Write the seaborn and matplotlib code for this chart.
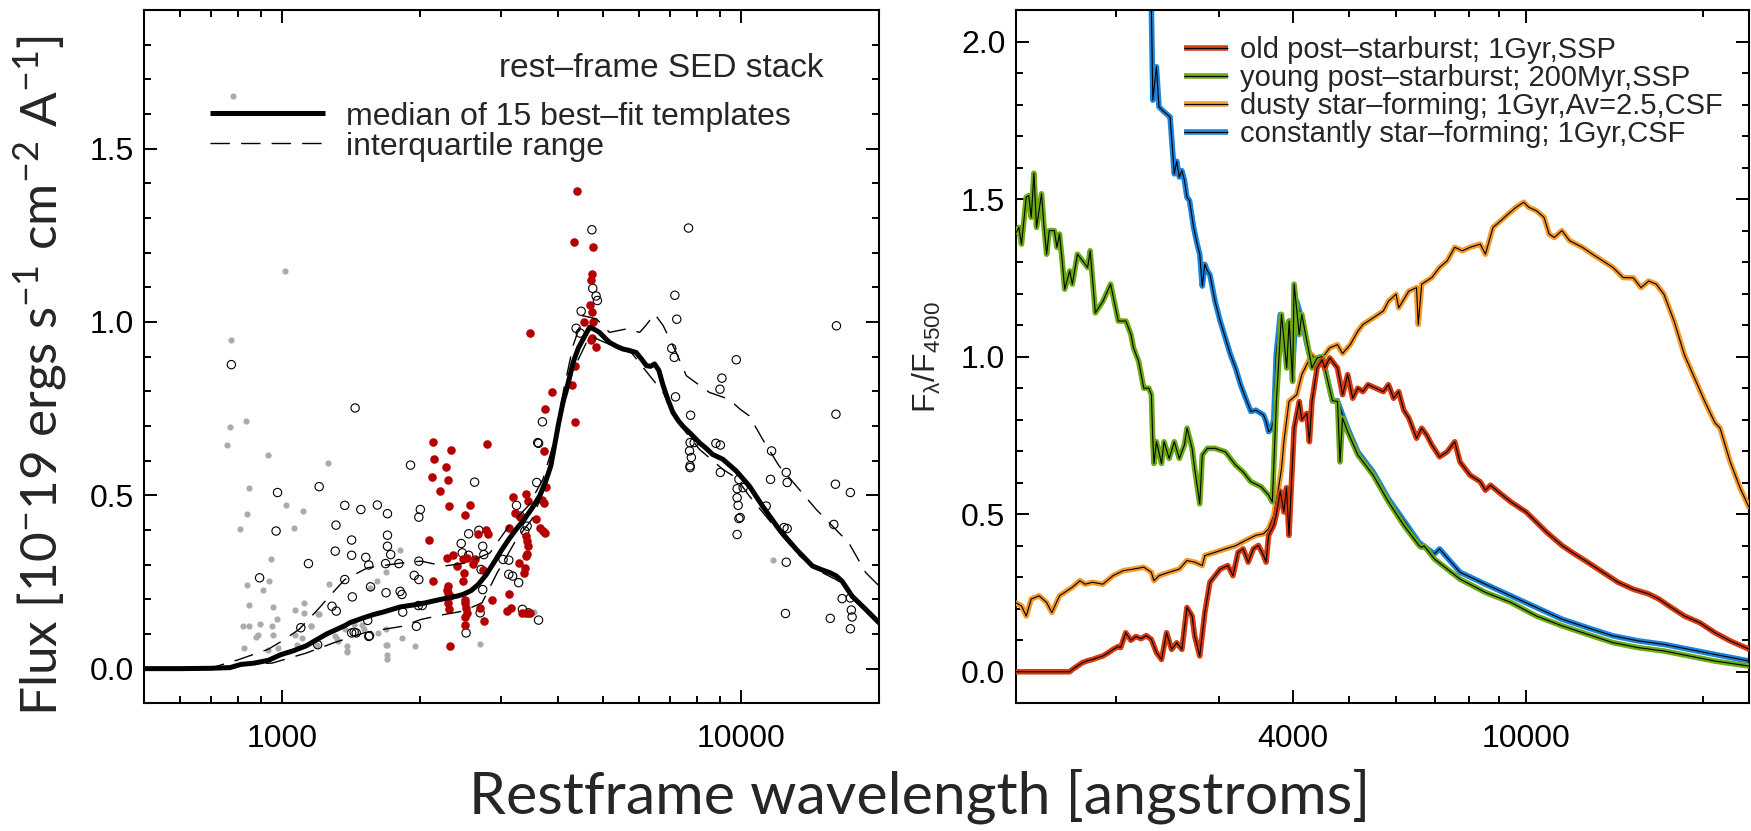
import matplotlib
matplotlib.use("Agg")
import matplotlib.pyplot as plt
from matplotlib.lines import Line2D
from matplotlib.ticker import FixedLocator, NullFormatter, FixedFormatter
import seaborn as sns

# ---------------- left panel: rest-frame SED stack ----------------
MED_WAVE = [500, 600, 700, 770, 812, 870, 933, 992, 1060, 1129, 1170, 1250, 1369, 1407, 1500, 1580,
            1658, 1808, 2008, 2150, 2295, 2400, 2478, 2580, 2675, 2780, 2890, 3000, 3117, 3240, 3367,
            3500, 3638, 3750, 3849, 3930, 3999, 4093, 4156, 4306, 4420, 4527, 4677, 4800, 4912, 5040,
            5167, 5350, 5526, 5700, 5906, 6050, 6220, 6350, 6477, 6620, 6763, 6930, 7103, 7300, 7458,
            7800, 8107, 8400, 8664, 9124, 9759, 10419, 11133, 12094, 13188, 14304, 15000, 15593,
            16100, 16600, 17450, 18680, 20000]
MED_FLUX = [0.0, 0.0, 0.001, 0.003, 0.012, 0.016, 0.024, 0.04, 0.052, 0.066, 0.078, 0.10, 0.124, 0.133,
            0.146, 0.156, 0.163, 0.178, 0.187, 0.196, 0.204, 0.209, 0.214, 0.225, 0.243, 0.27, 0.305,
            0.34, 0.373, 0.403, 0.43, 0.462, 0.498, 0.54, 0.585, 0.65, 0.705, 0.77, 0.80, 0.884, 0.925,
            0.951, 0.985, 0.978, 0.970, 0.955, 0.941, 0.93, 0.922, 0.918, 0.912, 0.895, 0.874, 0.872,
            0.879, 0.86, 0.816, 0.775, 0.739, 0.715, 0.70, 0.675, 0.652, 0.635, 0.618, 0.604, 0.570,
            0.527, 0.469, 0.402, 0.344, 0.296, 0.285, 0.277, 0.268, 0.252, 0.209, 0.171, 0.132]

UQ_WAVE = [500, 700, 800, 933, 1000, 1088, 1197, 1280, 1369, 1536, 1824, 2008, 2252, 2527, 2837, 3117,
           3434, 3700, 3927, 4100, 4300, 4527, 4838, 5167, 5629, 6011, 6200, 6480, 6760, 7220, 7597,
           8522, 9416, 9935, 10419, 11133, 12094, 13188, 14557, 15816, 17160, 18680, 20000]
UQ_FLUX = [0.0, 0.002, 0.025, 0.056, 0.08, 0.113, 0.171, 0.215, 0.257, 0.291, 0.305, 0.31, 0.296, 0.305,
           0.334, 0.411, 0.469, 0.546, 0.662, 0.80, 0.93, 1.018, 1.009, 0.97, 0.98, 0.97, 0.99, 1.023,
           0.99, 0.912, 0.845, 0.797, 0.777, 0.749, 0.729, 0.662, 0.585, 0.527, 0.46, 0.411, 0.363,
           0.277, 0.238]

LQ_WAVE = [500, 700, 800, 951, 1129, 1292, 1507, 1658, 1824, 2008, 2252, 2478, 2726, 2942, 3240, 3497,
           3776, 4000, 4300, 4677, 5345, 5780, 6320, 6763, 7220, 7597, 8107, 9124, 9759, 10419, 11320,
           12300, 13420, 14557, 16090, 16900, 17500, 18680, 20000]
LQ_FLUX = [0.0, 0.0, 0.012, 0.016, 0.045, 0.074, 0.103, 0.113, 0.122, 0.142, 0.156, 0.166, 0.19, 0.277,
           0.373, 0.43, 0.537, 0.70, 0.86, 0.96, 0.927, 0.91, 0.845, 0.797, 0.72, 0.68, 0.633, 0.575,
           0.55, 0.498, 0.44, 0.382, 0.325, 0.286, 0.257, 0.24, 0.21, 0.165, 0.125]

GRAY_WAVE = [783, 1013, 775, 770, 832, 759, 933, 1260, 848, 840, 808, 1019, 1109, 1061, 947, 1807, 840,
             937, 907, 845, 953, 1067, 1115, 975, 821, 846, 895, 951, 876, 885, 955, 827, 933, 979, 1115,
             1197, 1157, 1105, 1190, 1268, 1381, 1317, 1381, 1612, 1550, 1684, 1689, 1689, 1684, 1824,
             1951, 1506, 1369, 2700, 3536, 11750, 1078, 1306, 1323, 1431, 1492, 1620, 1685, 1690, 1384,
             1069, 1201, 1156]
GRAY_FLUX = [1.651, 1.146, 0.947, 0.698, 0.714, 0.645, 0.616, 0.593, 0.521, 0.445, 0.402, 0.471, 0.456,
             0.406, 0.315, 0.342, 0.241, 0.254, 0.226, 0.183, 0.178, 0.169, 0.188, 0.144, 0.122, 0.124,
             0.130, 0.124, 0.092, 0.098, 0.098, 0.060, 0.055, 0.060, 0.161, 0.158, 0.122, 0.089, 0.067,
             0.245, 0.064, 0.086, 0.047, 0.252, 0.233, 0.278, 0.040, 0.028, 0.067, 0.087, 0.066, 0.113,
             0.113, 0.071, 0.163, 0.312, 0.069, 0.095, 0.079, 0.130, 0.127, 0.103, 0.115, 0.069, 0.050,
             0.098, 0.159, 0.124]

OPEN_WAVE = [775, 1442, 4730, 7680, 4750, 4862, 4830, 7170, 4482, 7240, 16130, 4370, 4460, 7060, 7150,
             9759, 9080, 8993, 7195, 7760, 16090, 7740, 7900, 7720, 7790, 7740, 7740, 8810, 9010, 11650,
             9010, 12540, 11590, 9890, 9800, 10100, 12600, 16050, 17300, 9800, 9850, 11340, 9890, 9950,
             9800, 15920, 12400, 12600, 12540, 16600, 17300, 17380, 17450, 17300, 15640, 12490,
             1904, 1204, 977, 2626, 970, 1369, 1484, 1612, 1696, 2000, 1985, 1310, 1417, 1305, 1417,
             1521, 1544, 1696, 1696, 1724, 1680, 1796, 1985, 1940, 1985, 1141, 893, 1369, 1558, 1422,
             1684, 1807, 1824, 1284, 1312, 1981, 2019, 1831, 1536, 1098, 1417, 1450, 1544, 1961, 1435,
             1550, 1195, 2455, 2549, 2468, 2549, 2683, 2735, 2750, 2713, 2735, 2700, 2516, 3029, 3117,
             3117, 3178, 3275, 3240, 3303, 3418, 3378, 3338, 3441, 3619, 3586, 3604, 3620, 3690]
OPEN_FLUX = [0.877, 0.752, 1.266, 1.271, 1.097, 1.062, 1.075, 1.077, 1.031, 1.008, 0.989, 0.982, 0.968,
             0.924, 0.898, 0.891, 0.838, 0.806, 0.784, 0.731, 0.734, 0.652, 0.652, 0.628, 0.609, 0.585,
             0.58, 0.650, 0.645, 0.628, 0.566, 0.566, 0.546, 0.546, 0.519, 0.522, 0.537, 0.532, 0.508,
             0.493, 0.471, 0.469, 0.433, 0.436, 0.387, 0.416, 0.407, 0.404, 0.307, 0.202, 0.204, 0.169,
             0.149, 0.115, 0.145, 0.159,
             0.587, 0.525, 0.508, 0.538, 0.397, 0.471, 0.459, 0.472, 0.447, 0.459, 0.437, 0.414, 0.371,
             0.339, 0.327, 0.321, 0.299, 0.385, 0.353, 0.329, 0.303, 0.303, 0.310, 0.269, 0.257, 0.303,
             0.262, 0.257, 0.236, 0.207, 0.219, 0.223, 0.214, 0.180, 0.166, 0.182, 0.182, 0.163, 0.139,
             0.118, 0.103, 0.103, 0.093, 0.122, 0.105, 0.095, 0.069, 0.361, 0.389, 0.334, 0.327, 0.399,
             0.353, 0.329, 0.286, 0.228, 0.161, 0.103, 0.315, 0.313, 0.272, 0.267, 0.248, 0.471, 0.440,
             0.411, 0.397, 0.171, 0.161, 0.140, 0.537, 0.652, 0.650, 0.712]

RED_WAVE = [4388, 4319, 4760, 4724, 4700, 4680, 4730, 4750, 4550, 4700, 4740, 4838, 4340, 4270, 3870,
            3462, 4336, 3740, 3717, 3761, 3690, 3717, 3704, 3740, 3566, 3638,
            2126, 2145, 2329, 2274, 2791, 2119, 2295, 2208, 2308, 2566, 2505, 2085, 2676, 2803, 2780,
            2285, 2362, 2478, 2524, 2409, 2626, 2600, 2488, 2735, 2126, 2478, 2300, 2290, 2295, 2320,
            2300, 2305, 2500, 2505, 2515, 2530, 2505, 2500, 2700, 2750, 2318, 2860, 3117, 3178, 3208,
            3303, 3398, 3441, 3398, 3418, 3441, 3398, 3420, 3378, 3367, 3275, 3117, 3147, 3088, 3338,
            3398, 3463]
RED_FLUX = [1.377, 1.23, 1.216, 1.139, 1.12, 1.05, 1.03, 1.0, 1.0, 0.949, 0.955, 0.929, 0.874, 0.819,
            0.797, 0.968, 0.712, 0.749, 0.628, 0.525, 0.486, 0.479, 0.397, 0.390, 0.431, 0.407,
            0.655, 0.606, 0.630, 0.583, 0.649, 0.553, 0.543, 0.512, 0.469, 0.471, 0.443, 0.371, 0.387,
            0.387, 0.40, 0.320, 0.327, 0.315, 0.318, 0.296, 0.317, 0.303, 0.277, 0.284, 0.252, 0.252,
            0.238, 0.228, 0.219, 0.209, 0.190, 0.171, 0.199, 0.190, 0.175, 0.161, 0.149, 0.127, 0.175,
            0.137, 0.066, 0.199, 0.407, 0.495, 0.450, 0.436, 0.503, 0.484, 0.382, 0.368, 0.353, 0.325,
            0.33, 0.291, 0.277, 0.305, 0.214, 0.175, 0.166, 0.161, 0.161, 0.161]

# ---------------- right panel: template spectra ----------------
OLD_WAVE = [1348, 1668, 1685, 1754, 1789, 1825, 1862, 1900, 1939, 1978, 2018, 2038, 2079, 2121, 2164,
            2208, 2253, 2298, 2345, 2392, 2440, 2489, 2539, 2591, 2643, 2697, 2724, 2779, 2835, 2892,
            2951, 3011, 3103, 3166, 3230, 3295, 3361, 3429, 3498, 3569, 3605, 3641, 3715, 3752, 3812,
            3866, 3905, 3944, 3984, 4024, 4106, 4147, 4230, 4273, 4316, 4403, 4492, 4537, 4628, 4770,
            4867, 4965, 5064, 5167, 5272, 5378, 5543, 5711, 5827, 5945, 6065, 6188, 6313, 6505, 6638,
            6771, 6908, 7119, 7335, 7557, 7714, 8025, 8353, 8523, 8695, 9049, 9419, 10000, 10411,
            10836, 11507, 11976, 12719, 13508, 14341, 15229, 16173, 16830, 17515, 18604, 19750,
            20975, 22270, 24028]
OLD_FLUX = [0.0, 0.0, 0.007, 0.029, 0.035, 0.039, 0.045, 0.05, 0.06, 0.071, 0.08, 0.077, 0.124, 0.10,
            0.112, 0.105, 0.115, 0.103, 0.061, 0.039, 0.124, 0.071, 0.092, 0.071, 0.204, 0.177, 0.114,
            0.05, 0.188, 0.284, 0.305, 0.326, 0.337, 0.305, 0.379, 0.39, 0.348, 0.39, 0.401, 0.369,
            0.348, 0.433, 0.465, 0.499, 0.573, 0.507, 0.584, 0.433, 0.605, 0.773, 0.858, 0.80, 0.82,
            0.73, 0.858, 0.964, 0.99, 0.964, 0.996, 0.964, 0.879, 0.943, 0.868, 0.90, 0.889, 0.911,
            0.90, 0.889, 0.911, 0.868, 0.889, 0.83, 0.805, 0.741, 0.773, 0.751, 0.72, 0.682, 0.698,
            0.73, 0.666, 0.624, 0.603, 0.576, 0.592, 0.565, 0.539, 0.507, 0.475, 0.443, 0.401, 0.379,
            0.348, 0.316, 0.284, 0.262, 0.247, 0.231, 0.209, 0.177, 0.156, 0.124, 0.098, 0.071]

YOUNG_WAVE = [1348, 1367, 1381, 1407, 1421, 1435, 1450, 1465, 1494, 1509, 1524, 1540, 1571, 1587, 1603,
              1620, 1636, 1669, 1686, 1720, 1755, 1790, 1808, 1845, 1901, 1959, 2019, 2080, 2122, 2143,
              2187, 2231, 2276, 2299, 2310, 2322, 2345, 2392, 2416, 2465, 2515, 2565, 2617, 2644, 2697,
              2724, 2779, 2807, 2864, 2951, 3072, 3198, 3295, 3396, 3535, 3643, 3694, 3754, 3830, 3908,
              3947, 4000, 4024, 4106, 4147, 4231, 4316, 4404, 4493, 4584, 4677, 4771, 4818, 4866, 4965,
              5168, 5488, 5828, 6193, 6575, 6638, 6700, 6978, 7714, 8523, 9419, 10411, 11507, 12719,
              14058, 15536, 17170, 18979, 20975, 24028]
YOUNG_FLUX = [1.389, 1.41, 1.357, 1.506, 1.511, 1.442, 1.582, 1.41, 1.517, 1.41, 1.325, 1.40, 1.40,
              1.347, 1.389, 1.304, 1.214, 1.272, 1.23, 1.325, 1.304, 1.283, 1.336, 1.139, 1.176, 1.23,
              1.113, 1.113, 1.07, 1.028, 0.985, 0.90, 0.90, 0.879, 0.75, 0.661, 0.73, 0.661, 0.73,
              0.677, 0.73, 0.677, 0.72, 0.773, 0.709, 0.645, 0.533, 0.688, 0.709, 0.709, 0.698, 0.656,
              0.634, 0.603, 0.587, 0.56, 0.539, 0.858, 1.134, 0.964, 1.113, 0.921, 1.23, 1.07, 1.134,
              1.049, 0.964, 0.996, 1.0, 0.93, 0.86, 0.858, 0.666, 0.805, 0.762, 0.688, 0.624, 0.539,
              0.464, 0.40, 0.395, 0.40, 0.358, 0.294, 0.252, 0.22, 0.177, 0.146, 0.119, 0.0925, 0.0765,
              0.066, 0.05, 0.034, 0.018]

DUSTY_WAVE = [1348, 1381, 1407, 1435, 1480, 1524, 1556, 1603, 1685, 1737, 1772, 1825, 1900, 1978, 2059,
              2143, 2231, 2298, 2322, 2369, 2465, 2565, 2643, 2724, 2807, 2835, 2951, 3072, 3198, 3328,
              3464, 3569, 3641, 3715, 3792, 3830, 3866, 3944, 4065, 4147, 4230, 4316, 4403, 4537, 4628,
              4770, 4867, 5015, 5167, 5272, 5488, 5711, 5827, 6004, 6065, 6313, 6505, 6549, 6638, 6908,
              7119, 7335, 7557, 7788, 8025, 8353, 8523, 8781, 9049, 9325, 9612, 9903, 10103, 10411,
              10727, 10945, 11167, 11507, 11857, 12467, 12973, 13508, 14058, 14632, 15229, 15693,
              16173, 16662, 17170, 17867, 18604, 19360, 20151, 20975, 21400, 22270, 23177, 24028]
DUSTY_FLUX = [0.22, 0.209, 0.177, 0.231, 0.241, 0.22, 0.188, 0.241, 0.268, 0.289, 0.278, 0.284, 0.278,
              0.305, 0.321, 0.326, 0.332, 0.316, 0.289, 0.305, 0.316, 0.326, 0.353, 0.348, 0.337, 0.369,
              0.379, 0.39, 0.40, 0.417, 0.433, 0.438, 0.454, 0.496, 0.592, 0.645, 0.73, 0.858, 0.879,
              0.943, 0.975, 1.006, 0.985, 1.006, 1.028, 1.038, 1.01, 1.038, 1.081, 1.102, 1.123, 1.145,
              1.176, 1.198, 1.155, 1.208, 1.219, 1.102, 1.23, 1.251, 1.283, 1.304, 1.347, 1.336, 1.347,
              1.357, 1.325, 1.41, 1.431, 1.453, 1.474, 1.49, 1.474, 1.463, 1.442, 1.389, 1.378, 1.40,
              1.368, 1.347, 1.325, 1.304, 1.283, 1.251, 1.25, 1.219, 1.24, 1.23, 1.198, 1.113, 1.006,
              0.932, 0.858, 0.79, 0.773, 0.666, 0.581, 0.518]

CONST_WAVE = [2280, 2299, 2312, 2345, 2368, 2406, 2455, 2474, 2515, 2539, 2565, 2591, 2617, 2643, 2670,
              2713, 2751, 2779, 2807, 2835, 2864, 2892, 2951, 3011, 3072, 3134, 3198, 3262, 3328, 3396,
              3464, 3569, 3605, 3641, 3679, 3715, 3752, 3812, 3866, 3944, 4000, 4065, 4147, 4230, 4316,
              4403, 4492, 4584, 4677, 4770, 4867, 4965, 5167, 5488, 5827, 6188, 6573, 6978, 7119, 7714,
              8523, 9419, 10411, 11507, 12719, 14058, 15536, 17170, 18979, 20975, 24028]
CONST_FLUX = [2.3, 2.10, 1.814, 1.92, 1.793, 1.78, 1.766, 1.76, 1.58, 1.62, 1.57, 1.59, 1.56, 1.506,
              1.495, 1.41, 1.357, 1.325, 1.224, 1.293, 1.272, 1.26, 1.176, 1.113, 1.06, 1.007, 0.964,
              0.911, 0.868, 0.826, 0.83, 0.815, 0.794, 0.762, 0.77, 0.80, 1.007, 1.134, 1.07, 1.113,
              0.964, 1.176, 1.12, 1.04, 0.975, 0.996, 1.0, 0.93, 0.86, 0.86, 0.815, 0.773, 0.698, 0.634,
              0.549, 0.48, 0.41, 0.374, 0.39, 0.316, 0.278, 0.241, 0.204, 0.167, 0.14, 0.114, 0.098,
              0.087, 0.071, 0.055, 0.034]

TEMPLATE_LABELS = ["old post\u2013starburst; 1Gyr,SSP",
                   "young post\u2013starburst; 200Myr,SSP",
                   "dusty star\u2013forming; 1Gyr,Av=2.5,CSF",
                   "constantly star\u2013forming; 1Gyr,CSF"]
TEMPLATE_COLORS = ["#d63a10", "#6cab14", "#f59a2c", "#1b84dc"]

LEFT_XTICKS_MAJOR = [1000, 10000]
LEFT_XTICK_LABELS = ["1000", "10000"]
LEFT_XTICKS_MINOR = [600, 700, 800, 900, 2000, 3000, 4000, 5000, 6000, 7000, 8000, 9000]
RIGHT_XTICKS_MAJOR = [4000, 10000]
RIGHT_XTICK_LABELS = ["4000", "10000"]
RIGHT_XTICKS_MINOR = [2000, 3000, 5000, 6000, 7000, 8000, 9000, 20000]

# ---------------- style ----------------
sns.set_style("ticks")
plt.rcParams['font.family'] = ['Liberation Sans', 'DejaVu Sans']
plt.rcParams['axes.linewidth'] = 1.5
plt.rcParams['lines.solid_capstyle'] = 'butt'

W, H = 1751, 831
fig = plt.figure(figsize=(W / 100, H / 100), dpi=100)

def px_axes(x0, x1, y0, y1):
    return fig.add_axes([x0 / W, 1 - y1 / H, (x1 - x0) / W, (y1 - y0) / H])

axL = px_axes(144, 879.3, 10, 703.3)
axR = px_axes(1015.7, 1749.3, 10, 703.3)

TICK_FS = 23

def style_axis(ax, xmaj, xlab, xmin, ymaj, ymin):
    ax.set_xscale('log')
    ax.xaxis.set_major_locator(FixedLocator(xmaj))
    ax.xaxis.set_major_formatter(FixedFormatter(xlab))
    ax.xaxis.set_minor_locator(FixedLocator(xmin))
    ax.xaxis.set_minor_formatter(NullFormatter())
    ax.yaxis.set_major_locator(FixedLocator(ymaj))
    ax.yaxis.set_major_formatter(FixedFormatter([f"{v:.1f}" for v in ymaj]))
    ax.yaxis.set_minor_locator(FixedLocator(ymin))
    ax.tick_params(which='both', direction='in', top=True, right=True, width=1.4,
                   labelsize=TICK_FS, colors='black')
    ax.tick_params(which='major', length=9.5)
    ax.tick_params(which='minor', length=5)
    ax.tick_params(axis='x', which='major', pad=15)
    ax.tick_params(axis='y', which='major', pad=7.5)
    for s in ax.spines.values():
        s.set_visible(True)
        s.set_color('black')
        s.set_linewidth(1.5)
    ax.set_xlabel('')
    ax.set_ylabel('')

# ---- left panel ----
axL.set_xscale('log')
sns.scatterplot(x=GRAY_WAVE, y=GRAY_FLUX, ax=axL, color='#ababab', s=20, linewidth=0, zorder=2)
sns.scatterplot(x=OPEN_WAVE, y=OPEN_FLUX, ax=axL, facecolor='none', edgecolor='black', s=36,
                linewidth=0.8, zorder=3)
sns.scatterplot(x=RED_WAVE, y=RED_FLUX, ax=axL, color='#b40000', s=38, linewidth=0, zorder=4)
dash = (0, (14, 8))
sns.lineplot(x=UQ_WAVE, y=UQ_FLUX, ax=axL, color='black', linewidth=1.0, linestyle=dash,
             estimator=None, sort=False, zorder=5)
sns.lineplot(x=LQ_WAVE, y=LQ_FLUX, ax=axL, color='black', linewidth=1.0, linestyle=dash,
             estimator=None, sort=False, zorder=5)
sns.lineplot(x=MED_WAVE, y=MED_FLUX, ax=axL, color='black', linewidth=3.6, estimator=None,
             sort=False, zorder=6)
axL.set_xlim(500, 20000)
axL.set_ylim(-0.1, 1.9)
style_axis(axL, LEFT_XTICKS_MAJOR, LEFT_XTICK_LABELS, LEFT_XTICKS_MINOR,
           [0.0, 0.5, 1.0, 1.5], [round(0.1 * i, 1) for i in range(-1, 20)])

axL.text(0.4828, 0.9034, "rest\u2013frame SED stack", transform=axL.transAxes,
         fontsize=24, ha='left', va='baseline')
hL = [Line2D([], [], color='black', lw=3.6),
      Line2D([], [], color='black', lw=1.0, linestyle=dash)]
legL = axL.legend(hL, ["median of 15 best\u2013fit templates", "interquartile range"],
                  loc='upper left', bbox_to_anchor=(0.0898, 0.868), frameon=False,
                  fontsize=23, borderpad=0, borderaxespad=0, handlelength=3.6,
                  handletextpad=0.65, labelspacing=0.0)

# ---- right panel ----
axR.set_xscale('log')
series = [(CONST_WAVE, CONST_FLUX, 3), (DUSTY_WAVE, DUSTY_FLUX, 2),
          (YOUNG_WAVE, YOUNG_FLUX, 1), (OLD_WAVE, OLD_FLUX, 0)]
for k, (wv, fl, ci) in enumerate(series):
    sns.lineplot(x=wv, y=fl, ax=axR, color=TEMPLATE_COLORS[ci], linewidth=4.0, estimator=None,
                 sort=False, zorder=2 + 2 * k)
    sns.lineplot(x=wv, y=fl, ax=axR, color='black', linewidth=0.8, estimator=None, sort=False,
                 zorder=3 + 2 * k)
axR.set_xlim(1350, 24000)
axR.set_ylim(-0.1, 2.1)
style_axis(axR, RIGHT_XTICKS_MAJOR, RIGHT_XTICK_LABELS, RIGHT_XTICKS_MINOR,
           [0.0, 0.5, 1.0, 1.5, 2.0], [round(0.1 * i, 1) for i in range(-1, 22)])

hR = [(Line2D([], [], color=c, lw=4.0), Line2D([], [], color='black', lw=0.8))
      for c in TEMPLATE_COLORS]
legR = axR.legend(hR, TEMPLATE_LABELS, loc='upper left', bbox_to_anchor=(0.2295, 0.962),
                  frameon=False, fontsize=21, borderpad=0, borderaxespad=0, handlelength=1.52,
                  handletextpad=0.39, labelspacing=0.0)

# ---- figure-level labels ----
fig.text(41 / W, 1 - 376 / H,
         "Flux [10$\\mathregular{^{-}}$19 ergs s$\\mathregular{^{-1}}$ cm$\\mathregular{^{-2}}$ "
         "A$\\mathregular{^{-1}}$]",
         rotation=90, ha='center', va='center', fontsize=37, family=['Lato', 'DejaVu Sans'])
fig.text(927 / W, 1 - 357 / H, "F$_{\\mathregular{\u03bb}}$/F$_{\\mathregular{4500}}$",
         rotation=90, ha='center', va='center', fontsize=23)
fig.text(920 / W, 1 - 813 / H, "Restframe wavelength [angstroms]", ha='center', va='baseline',
         fontsize=42.5, family=['Lato', 'DejaVu Sans'])

fig.savefig("out.png", dpi=100)
